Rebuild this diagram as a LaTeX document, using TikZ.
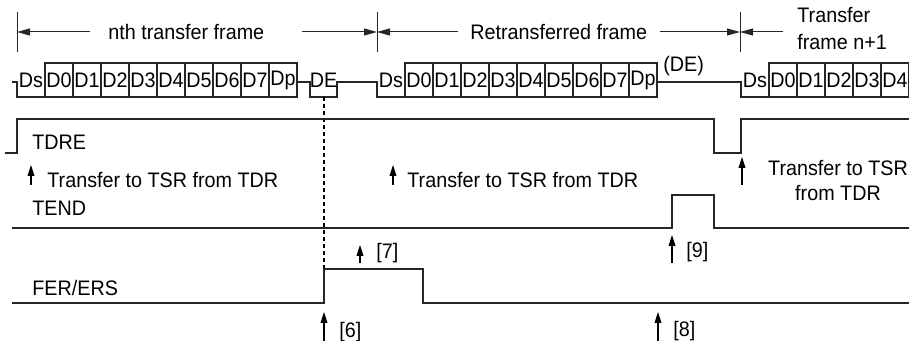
\documentclass[tikz,border=0pt]{standalone}
\usepackage{fontspec}
\setmainfont[FakeStretch=0.94]{Liberation Sans}
\usetikzlibrary{arrows.meta}

\begin{document}
\begin{tikzpicture}[x={(0.5pt,0)}, y={(0,-0.5pt)}, line cap=butt, line join=miter,
  wave/.style={line width=0.8pt, black!85},
  dimline/.style={line width=0.5pt, black!85},
  dimtip/.style={-{Triangle[length=6.5pt,width=3.5pt]}},
  evarrow/.style={line width=0.55pt, black, -{Triangle[length=5.5pt,width=3.4pt]}},
  lbl/.style={inner sep=0pt, anchor=west, font=\fontsize{10.5pt}{13pt}\selectfont},
  celltext/.style={inner sep=0pt, font=\fontsize{10.5pt}{13pt}\selectfont}]

\useasboundingbox (0,0) rectangle (909,341);

% frame dimension lines
\foreach \fx in {17,377,740}
  \draw[dimline] (\fx,12) -- (\fx,52);
\draw[dimline, dimtip] (90,32) -- (17,32);
\node[lbl] (nth) at (108,32) {nth transfer frame};
\draw[dimline, dimtip] (302,32) -- (377,32);
\draw[dimline, dimtip] (458,32) -- (377,32);
\node[lbl] (retr) at (470,32) {Retransferred frame};
\draw[dimline, dimtip] (660,32) -- (740,32);
\draw[dimline, dimtip] (783,32) -- (740,32);
\node[lbl, align=left, font=\fontsize{10.5pt}{13.5pt}\selectfont] (next) at (797,28.5) {Transfer\\frame n+1};

% serial data line
\draw[wave] (12,82) -- (17,82) -- (17,97) -- (45,97);
\draw[wave] (297,82) -- (310,82) -- (310,97) -- (337,97) -- (337,82) -- (377,82) -- (377,97) -- (405,97);
\draw[wave] (657,82) -- (741,82) -- (741,97) -- (769,97);
\node[celltext] (ds1) at (31,80) {Ds};
\node[celltext] (de1) at (323.5,80) {DE};
\node[celltext] (ds2) at (391,80) {Ds};
\node[celltext] (ds3) at (755,80) {Ds};
\node[lbl] (de2) at (663,66) {(DE)};
\foreach \lab [count=\i from 0] in {D0,D1,D2,D3,D4,D5,D6,D7,Dp} {
  \draw[wave] ({45+28*\i},63) rectangle ++(28,34);
  \node[celltext] (a\i) at ({59+28*\i},80) {\lab};
  \draw[wave] ({405+28*\i},63) rectangle ++(28,34);
  \node[celltext] (b\i) at ({419+28*\i},80) {\lab};
}
\foreach \lab [count=\i from 0] in {D0,D1,D2,D3,D4} {
  \draw[wave] ({769+28*\i},63) rectangle ++(28,34);
  \node[celltext] (c\i) at ({783+28*\i},80) {\lab};
}

% error timing
\draw[line width=0.55pt, black, dash pattern=on 2pt off 1.5pt] (324,97) -- (324,269);

% TDRE
\draw[wave] (5,153) -- (17,153) -- (17,119) -- (714,119) -- (714,153) -- (741,153) -- (741,119) -- (909,119);
\node[lbl] (tdre) at (32,142) {TDRE};
\draw[evarrow] (31,185) -- (31,165);
\node[lbl] (tsr1) at (47,180) {Transfer to TSR from TDR};
\draw[evarrow] (393,185) -- (393,165);
\node[lbl] (tsr2) at (407,180) {Transfer to TSR from TDR};
\draw[evarrow] (742,185) -- (742,157);
\node[celltext, align=center, font=\fontsize{10.5pt}{12.5pt}\selectfont] (tsr3) at (838,180.5) {Transfer to TSR\\from TDR};

% TEND
\draw[wave] (12,228) -- (672,228) -- (672,195) -- (714,195) -- (714,228) -- (909,228);
\node[lbl] (tend) at (32,208) {TEND};
\draw[evarrow] (360,263) -- (360,245);
\node[lbl] (m7) at (376,253) {[7]};
\draw[evarrow] (672,263) -- (672,235);
\node[lbl] (m9) at (686,252) {[9]};

% FER/ERS
\draw[wave] (12,303) -- (324,303) -- (324,269) -- (423,269) -- (423,303) -- (909,303);
\node[lbl] (fer) at (32,288) {FER/ERS};
\draw[evarrow] (324,341) -- (324,312);
\node[lbl] (m6) at (339,332) {[6]};
\draw[evarrow] (658,341) -- (658,312);
\node[lbl] (m8) at (673,331) {[8]};

\end{tikzpicture}
\end{document}
